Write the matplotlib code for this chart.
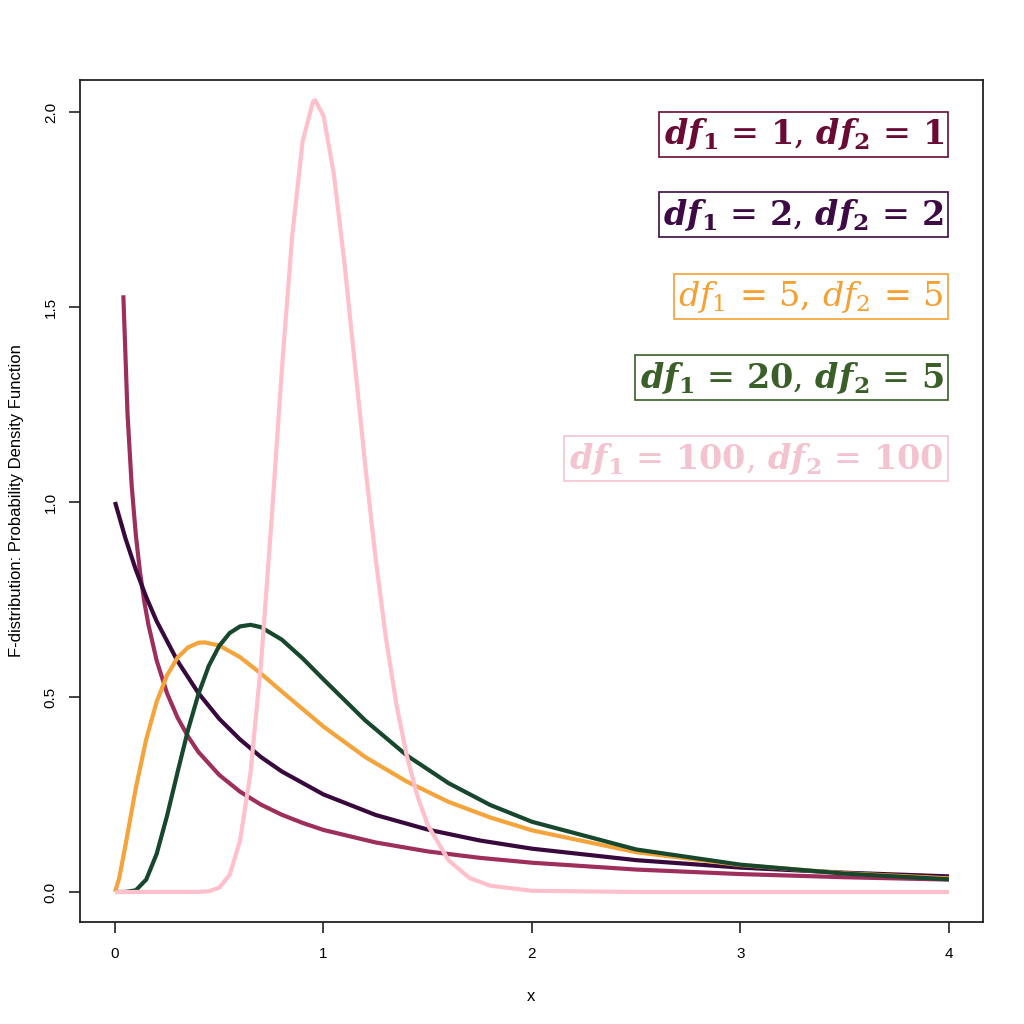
import matplotlib
matplotlib.use("Agg")
import matplotlib.pyplot as plt

# ---- data ----
x_1_1 = [0.04, 0.06, 0.08, 0.10, 0.12, 0.14, 0.16, 0.20, 0.25, 0.30, 0.35, 0.40, 0.50, 0.60,
         0.70, 0.80, 0.90, 1.00, 1.25, 1.50, 1.75, 2.00, 2.50, 3.00, 3.50, 4.00]
y_1_1 = [1.530, 1.226, 1.042, 0.915, 0.820, 0.746, 0.686, 0.593, 0.509, 0.447, 0.399, 0.359,
         0.300, 0.257, 0.224, 0.198, 0.177, 0.159, 0.127, 0.104, 0.0875, 0.075, 0.0575,
         0.0459, 0.0378, 0.0318]

x_2_2 = [0.0, 0.05, 0.10, 0.15, 0.20, 0.30, 0.40, 0.50, 0.60, 0.70, 0.80, 1.00, 1.25, 1.50,
         1.75, 2.00, 2.50, 3.00, 3.50, 4.00]
y_2_2 = [1.000, 0.907, 0.826, 0.756, 0.694, 0.592, 0.510, 0.444, 0.391, 0.346, 0.309, 0.250,
         0.1975, 0.160, 0.132, 0.111, 0.0816, 0.0625, 0.0494, 0.040]

x_5_5 = [0.0, 0.02, 0.05, 0.10, 0.15, 0.20, 0.25, 0.30, 0.35, 0.40, 0.43, 0.50, 0.60, 0.70,
         0.80, 1.00, 1.20, 1.40, 1.60, 1.80, 2.00, 2.50, 3.00, 3.50, 4.00]
y_5_5 = [0.0, 0.035, 0.119, 0.267, 0.392, 0.488, 0.556, 0.601, 0.627, 0.639, 0.640, 0.632,
         0.602, 0.560, 0.514, 0.424, 0.346, 0.283, 0.231, 0.191, 0.158, 0.102, 0.069, 0.048,
         0.035]

x_20_5 = [0.0, 0.05, 0.10, 0.15, 0.20, 0.25, 0.30, 0.35, 0.40, 0.45, 0.50, 0.55, 0.60, 0.65,
          0.70, 0.80, 0.90, 1.00, 1.20, 1.40, 1.60, 1.80, 2.00, 2.50, 3.00, 3.50, 4.00]
y_20_5 = [0.0, 0.0001, 0.0044, 0.032, 0.098, 0.196, 0.307, 0.415, 0.507, 0.580, 0.631, 0.664,
          0.681, 0.685, 0.679, 0.647, 0.599, 0.545, 0.440, 0.350, 0.279, 0.223, 0.180, 0.109,
          0.070, 0.047, 0.0325]

x_100_100 = [0.0, 0.40, 0.45, 0.50, 0.55, 0.60, 0.65, 0.70, 0.75, 0.80, 0.85, 0.90, 0.95, 0.96,
             1.00, 1.05, 1.10, 1.15, 1.20, 1.25, 1.30, 1.35, 1.40, 1.45, 1.50, 1.60, 1.70,
             1.80, 2.00, 2.50, 4.00]
y_100_100 = [0.0, 0.0002, 0.0019, 0.011, 0.044, 0.132, 0.306, 0.584, 0.946, 1.337, 1.683, 1.925,
             2.027, 2.030, 1.990, 1.840, 1.615, 1.356, 1.095, 0.855, 0.649, 0.480, 0.348, 0.247,
             0.172, 0.081, 0.036, 0.016, 0.003, 0.0, 0.0]

labels = [r"$\mathbfit{df}_{\mathbf{1}}\,=\,\mathbf{1},\,\mathbfit{df}_{\mathbf{2}}\,=\,\mathbf{1}$",
          r"$\mathbfit{df}_{\mathbf{1}}\,=\,\mathbf{2},\,\mathbfit{df}_{\mathbf{2}}\,=\,\mathbf{2}$",
          r"$df_{1}\,=\,5,\,df_{2}\,=\,5$",
          r"$\mathbfit{df}_{\mathbf{1}}\,=\,\mathbf{20},\,\mathbfit{df}_{\mathbf{2}}\,=\,\mathbf{5}$",
          r"$\mathbfit{df}_{\mathbf{1}}\,=\,\mathbf{100},\,\mathbfit{df}_{\mathbf{2}}\,=\,\mathbf{100}$"]
x_ticks = [0, 1, 2, 3, 4]
y_ticks = [0.0, 0.5, 1.0, 1.5, 2.0]
y_tick_labels = ["0.0", "0.5", "1.0", "1.5", "2.0"]

# ---- style ----
line_colors = ["#9E2F5C", "#38093D", "#F4A43A", "#17472C", "#FFC0CB"]
text_colors = ["#6A0B35", "#3E0A45", "#F5A032", "#3A5F28", "#F3C4CF"]
label_y = [1.942, 1.736, 1.526, 1.318, 1.111]

plt.rcParams["font.family"] = ["Liberation Sans", "DejaVu Sans"]
plt.rcParams["mathtext.fontset"] = "custom"
plt.rcParams["mathtext.rm"] = "DejaVu Serif"
plt.rcParams["mathtext.it"] = "DejaVu Serif:italic"
plt.rcParams["mathtext.bf"] = "DejaVu Serif:bold"
plt.rcParams["mathtext.bfit"] = "DejaVu Serif:italic:bold"

fig = plt.figure(figsize=(10.24, 10.24), dpi=100)
ax = fig.add_axes([0.0781, 0.0996, 0.8818, 0.8223])

series = [(x_1_1, y_1_1), (x_2_2, y_2_2), (x_5_5, y_5_5), (x_20_5, y_20_5), (x_100_100, y_100_100)]
for (xs, ys), c in zip(series, line_colors):
    ax.plot(xs, ys, color=c, lw=3.0, solid_capstyle="butt", solid_joinstyle="round")

for lab, yy, tc in zip(labels, label_y, text_colors):
    ax.text(3.975, yy, lab, ha="right", va="center", color=tc, fontsize=24,
            bbox=dict(boxstyle="square,pad=0.14", facecolor="white", edgecolor=tc, lw=1.2))

ax.set_xlim(-0.168, 4.163)
ax.set_ylim(-0.077, 2.082)
ax.set_xticks(x_ticks)
ax.set_xticklabels([str(t) for t in x_ticks])
ax.set_yticks(y_ticks)
ax.set_yticklabels(y_tick_labels, rotation=90, va="center")
ax.tick_params(axis="both", direction="out", length=8, width=1.2, labelsize=11, color="#222222")
ax.tick_params(axis="x", pad=10)
ax.tick_params(axis="y", pad=8)
for s in ax.spines.values():
    s.set_linewidth(1.3)
    s.set_color("#222222")

ax.set_xlabel("x", fontsize=12, labelpad=20)
ax.set_ylabel("F-distribution: Probability Density Function", fontsize=12, labelpad=14)

fig.savefig("out.png", dpi=100, facecolor="white")
